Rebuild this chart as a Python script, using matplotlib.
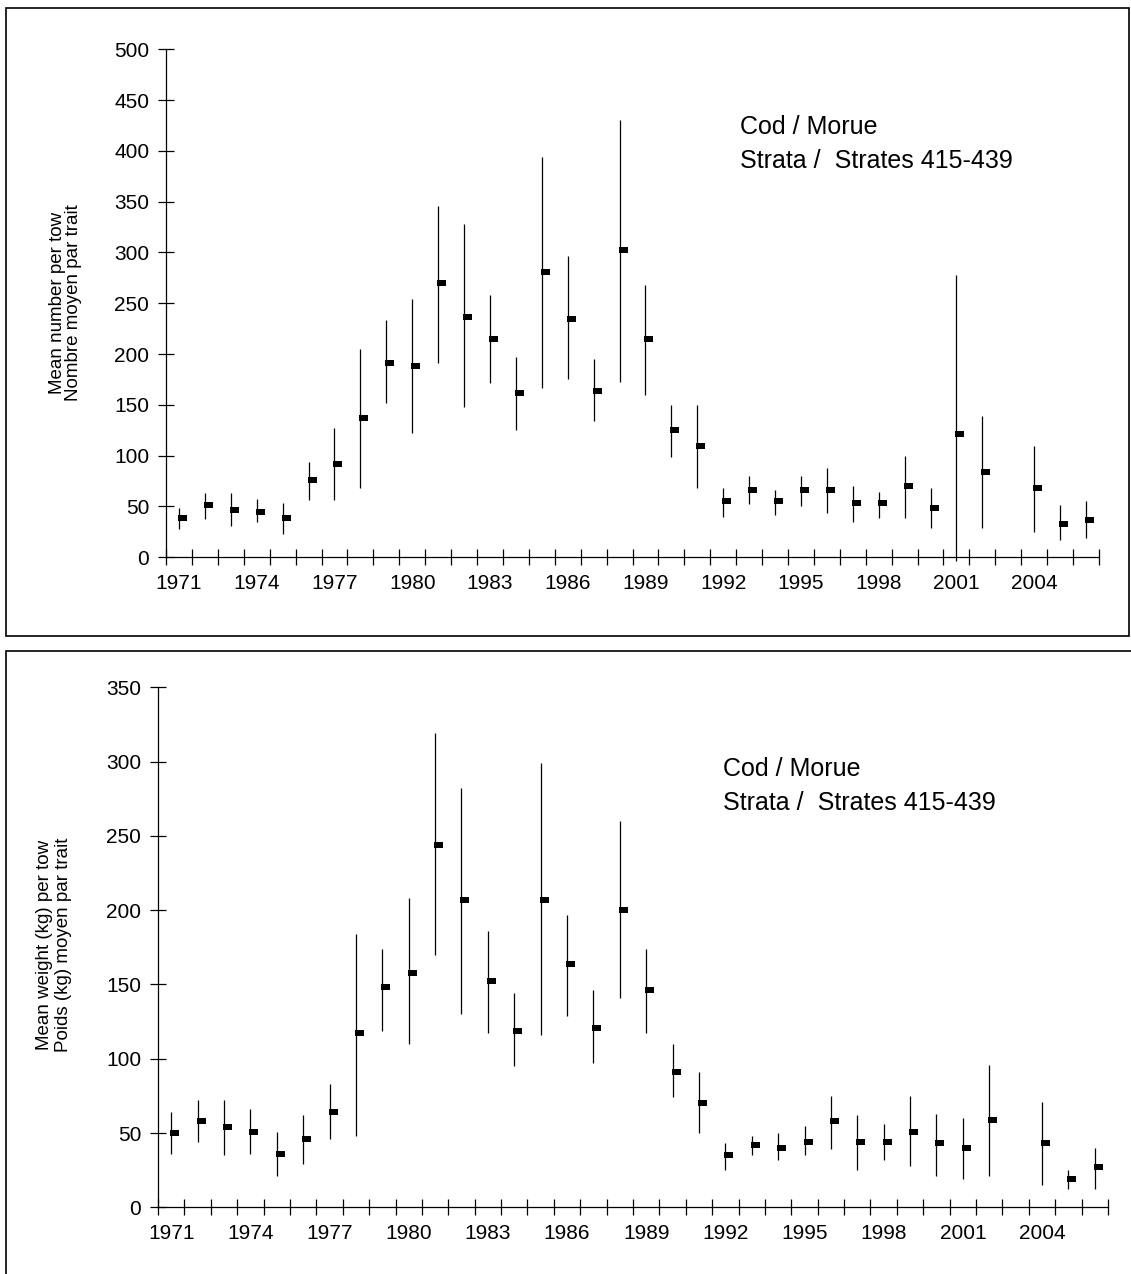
import numpy as np
import matplotlib
matplotlib.use("Agg")
import matplotlib.pyplot as plt
from matplotlib.patches import Rectangle

plt.rcParams['font.family'] = ['Liberation Sans', 'DejaVu Sans']

years = list(range(1971, 2007))
nan = np.nan

# mean number per tow (top)
num_mean = [39, 51, 47, 45, 39, 76, 92, 137, 191, 188, 270, 237, 215, 162, 281, 235, 164, 302,
            215, 125, 110, 55, 66, 55, 66, 66, 53, 53, 70, 49, 121, 84, nan, 68, 33, 37]
num_high = [49, 63, 63, 57, 53, 94, 127, 205, 234, 254, 346, 328, 258, 197, 394, 297, 195, 430,
            268, 150, 150, 68, 80, 66, 80, 88, 70, 64, 100, 68, 278, 139, nan, 110, 51, 55]
num_low = [28, 38, 31, 35, 23, 56, 56, 68, 152, 122, 191, 148, 172, 125, 167, 175, 134, 173,
           160, 99, 68, 40, 52, 42, 50, 44, 35, 39, 39, 29, -4, 29, nan, 25, 17, 19]

# mean weight (kg) per tow (bottom)
wt_mean = [50, 58, 54, 51, 36, 46, 64, 117, 148, 158, 244, 207, 152, 119, 207, 164, 121, 200,
           146, 91, 70, 35, 42, 40, 44, 58, 44, 44, 51, 43, 40, 59, nan, 43, 19, 27]
wt_high = [64, 72, 72, 66, 51, 62, 83, 184, 174, 208, 319, 282, 186, 144, 299, 197, 146, 260,
           174, 110, 91, 43, 48, 50, 55, 75, 62, 56, 75, 63, 60, 96, nan, 71, 25, 40]
wt_low = [36, 44, 35, 36, 21, 29, 46, 48, 119, 110, 170, 130, 117, 95, 116, 129, 97, 141,
          117, 74, 50, 25, 35, 32, 35, 39, 25, 32, 28, 21, 19, 21, nan, 15, 12, 12]

W, H = 1131, 1274
fig = plt.figure(figsize=(W / 100, H / 100), dpi=100)

# close marker: small bar to the right of the high-low line
close_marker = [(-1, -3), (7, -3), (7, 3), (-1, 3), (-1, -3)]


def panel(rect_px, ymax, mean, high, low):
    x0, x1, ytop, ybot = rect_px
    ax = fig.add_axes([x0 / W, 1 - ybot / H, (x1 - x0) / W, (ybot - ytop) / H])
    x = np.arange(len(years)) + 0.5
    ax.vlines(x, low, high, color='black', lw=0.9, clip_on=False)
    ax.plot(x, mean, ls='none', marker=close_marker, ms=11, color='black',
            markeredgewidth=0, clip_on=False)
    ax.set_xlim(0, len(years))
    ax.set_ylim(0, ymax)
    for s in ['top', 'right']:
        ax.spines[s].set_visible(False)
    for s in ['left', 'bottom']:
        ax.spines[s].set_linewidth(0.9)
    ax.set_yticks(np.arange(0, ymax + 1, 50))
    ax.set_xticks(np.arange(0, len(years) + 1))
    ax.set_xticklabels([])
    ax.set_xticks(x[::3], minor=True)
    ax.set_xticklabels([str(y) for y in years[::3]], minor=True)
    ax.tick_params(axis='both', which='major', direction='inout', length=12, width=0.9,
                   labelsize=15, pad=6)
    ax.tick_params(axis='x', which='minor', length=0, labelsize=15, pad=12)
    return ax


panel((166, 1099, 49.3, 557.3), 500, num_mean, num_high, num_low)
panel((158, 1108, 687.3, 1207.3), 350, wt_mean, wt_high, wt_low)

# panel frames
fig.add_artist(Rectangle((6 / W, 1 - 636 / H), (1129 - 6) / W, (636 - 8) / H,
                         transform=fig.transFigure, fill=False, lw=1.2, ec='black'))
fig.add_artist(Rectangle((6 / W, -0.1), 1.2, 0.1 + 1 - 650.5 / H,
                         transform=fig.transFigure, fill=False, lw=1.2, ec='black'))

# axis titles
fig.text(57 / W, 1 - 303 / H, "Mean number per tow", rotation=90, ha='center', va='center', fontsize=13.5)
fig.text(74 / W, 1 - 303 / H, "Nombre moyen par trait", rotation=90, ha='center', va='center', fontsize=13.5)
fig.text(45 / W, 1 - 945 / H, "Mean weight (kg) per tow", rotation=90, ha='center', va='center', fontsize=13.5)
fig.text(63 / W, 1 - 945 / H, "Poids (kg) moyen par trait", rotation=90, ha='center', va='center', fontsize=13.5)

# species / strata annotation
fig.text(740 / W, 1 - 127 / H, "Cod / Morue", ha='left', va='center', fontsize=18)
fig.text(740 / W, 1 - 161 / H, "Strata /  Strates 415-439", ha='left', va='center', fontsize=18)
fig.text(723 / W, 1 - 769 / H, "Cod / Morue", ha='left', va='center', fontsize=18)
fig.text(723 / W, 1 - 803 / H, "Strata /  Strates 415-439", ha='left', va='center', fontsize=18)

fig.savefig("out.png", dpi=100, facecolor='white')
